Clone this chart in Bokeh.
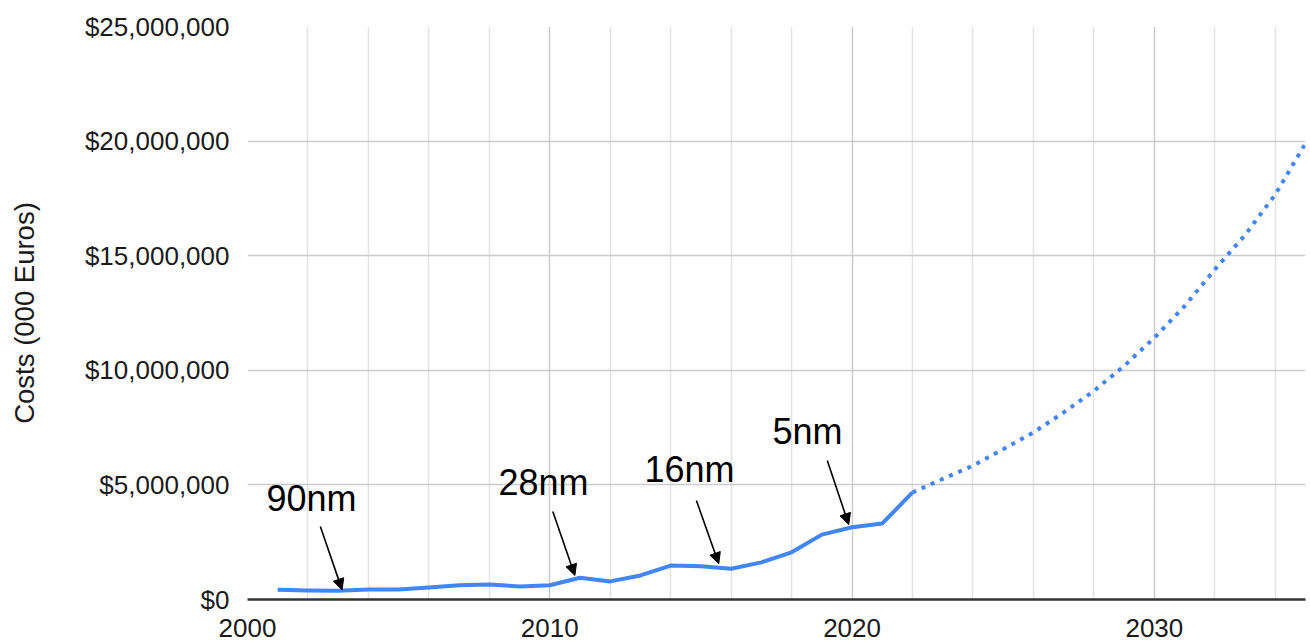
from bokeh.plotting import figure
from bokeh.models import (Range1d, FixedTicker, NumeralTickFormatter, Arrow, NormalHead,
                          ColumnDataSource)
from bokeh.core.properties import value
from bokeh.embed import file_html
from bokeh.resources import INLINE

# ---- data ----
years_actual = [2001, 2002, 2003, 2004, 2005, 2006, 2007, 2008, 2009, 2010, 2011,
                2012, 2013, 2014, 2015, 2016, 2017, 2018, 2019, 2020, 2021, 2022]
costs_actual = [420000, 390000, 380000, 440000, 440000, 520000, 620000, 650000, 570000,
                620000, 950000, 790000, 1050000, 1480000, 1450000, 1340000, 1620000,
                2060000, 2830000, 3150000, 3320000, 4670000]

years_forecast = [2022, 2023, 2024, 2025, 2026, 2027, 2028, 2029, 2030, 2031, 2032,
                  2033, 2034, 2035]
costs_forecast = [4670000, 5260000, 5840000, 6560000, 7290000, 8160000, 9100000,
                  10190000, 11420000, 12800000, 14400000, 15900000, 17670000, 19900000]

# annotations: label, label anchor (left/baseline), arrow start and tip
node_labels = ["90nm", "28nm", "16nm", "5nm"]
label_x = [2000.63, 2008.30, 2013.13, 2017.37]
label_y = [4410000, 5120000, 5660000, 7340000]
arrow_x_start = [2002.41, 2010.10, 2014.85, 2019.18]
arrow_y_start = [3180000, 3840000, 4320000, 6060000]
arrow_x_end = [2003.13, 2010.83, 2015.59, 2019.89]
arrow_y_end = [420000, 1050000, 1560000, 3270000]

x_major = [2000, 2010, 2020, 2030]
x_minor = [2002, 2004, 2006, 2008, 2012, 2014, 2016, 2018, 2022, 2024, 2026, 2028,
           2032, 2034]
y_ticks = [0, 5000000, 10000000, 15000000, 20000000, 25000000]

FONT = "Liberation Sans"
BLUE = "#4285f4"

p = figure(width=1310, height=643, output_backend="svg", toolbar_location=None,
           x_range=Range1d(2000, 2035), y_range=Range1d(0, 25000000),
           min_border_left=247, min_border_right=5, min_border_top=26,
           min_border_bottom=44)
p.outline_line_color = None
p.background_fill_color = "white"
p.border_fill_color = "white"

p.xaxis.ticker = FixedTicker(ticks=x_major, minor_ticks=x_minor)
p.yaxis.ticker = FixedTicker(ticks=y_ticks)
p.yaxis.formatter = NumeralTickFormatter(format="$0,0")

p.xgrid.grid_line_color = "#cccccc"
p.xgrid.grid_line_width = 1.5
p.xgrid.minor_grid_line_color = "#e3e3e3"
p.xgrid.minor_grid_line_width = 1.5
p.ygrid.grid_line_color = "#cccccc"
p.ygrid.grid_line_width = 1.5

for ax in (p.xaxis[0], p.yaxis[0]):
    ax.major_tick_line_color = None
    ax.minor_tick_line_color = None
    ax.major_label_text_font = FONT
    ax.major_label_text_font_size = "26px"
    ax.major_label_text_color = "#1a1a1a"

p.xaxis.axis_line_color = "#333333"
p.xaxis.axis_line_width = 2.5
p.xaxis.major_label_standoff = 13
p.yaxis.axis_line_color = None
p.yaxis.major_label_standoff = 12
p.yaxis.axis_label = "Costs (000 Euros)"
p.yaxis.axis_label_text_font = FONT
p.yaxis.axis_label_text_font_size = "27.5px"
p.yaxis.axis_label_text_font_style = "normal"
p.yaxis.axis_label_text_color = "#1a1a1a"
p.yaxis.axis_label_standoff = 42

p.line(years_actual, costs_actual, line_color=BLUE, line_width=4, line_join="round")
p.line(years_forecast, costs_forecast, line_color=BLUE, line_width=4,
       line_dash="4 6")

ann = ColumnDataSource(dict(lx=label_x, ly=label_y, label=node_labels,
                            xs=arrow_x_start, ys=arrow_y_start,
                            xe=arrow_x_end, ye=arrow_y_end))
p.text(x="lx", y="ly", text="label", source=ann, text_font=value(FONT),
       text_font_size="36px", text_color="black", text_baseline="alphabetic",
       text_align="left")
p.add_layout(Arrow(end=NormalHead(size=11, fill_color="black", line_color="black",
                                  line_width=1),
                   x_start="xs", y_start="ys", x_end="xe", y_end="ye",
                   source=ann, line_color="black", line_width=1.6))

open("out.html", "w").write(file_html(p, INLINE))
